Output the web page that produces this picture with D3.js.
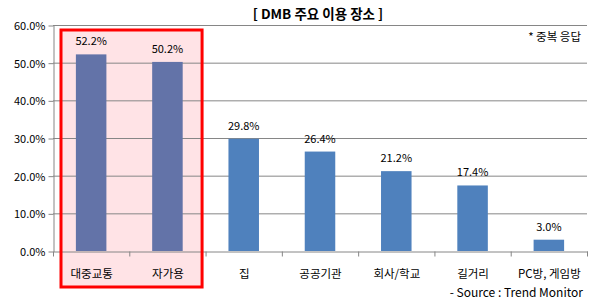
<!DOCTYPE html>
<html>
<head>
<meta charset="utf-8">
<script src="https://cdn.jsdelivr.net/npm/d3@7"></script>
<style>
  body { margin: 0; background: #fff; }
  text { font-family: "Noto Sans CJK KR", "DejaVu Sans", sans-serif; fill: #000; }
</style>
</head>
<body>
<div id="chart"></div>
<script>
// data
let categories = ["대중교통", "자가용", "집", "공공기관", "회사/학교", "길거리", "PC방, 게임방"];
let values = [52.2, 50.2, 29.8, 26.4, 21.2, 17.4, 3.0];
let highlighted = ["대중교통", "자가용"];
let yTicks = [0, 10, 20, 30, 40, 50, 60];

let width = 597, height = 305;
let margin = {top: 25, right: 10, bottom: 54, left: 53};
let plotW = width - margin.left - margin.right;
let plotH = height - margin.top - margin.bottom;

let svg = d3.select("#chart").append("svg")
  .attr("width", width)
  .attr("height", height);

let x = d3.scaleBand().domain(categories).range([0, plotW]).paddingInner(0).paddingOuter(0);
let y = d3.scaleLinear().domain([0, 60]).range([plotH, 0]);

let g = svg.append("g").attr("transform", `translate(${margin.left},${margin.top})`);

// highlight box behind first two bars
let hx0 = x(highlighted[0]) + 8;
let hx1 = x(highlighted[1]) + x.bandwidth() - 3.5;
g.append("rect")
  .attr("x", hx0)
  .attr("y", 5)
  .attr("width", hx1 - hx0)
  .attr("height", plotH + 36 - 5)
  .attr("fill", "#ffe3e6")
  .attr("stroke", "none");

// gridlines
g.selectAll(".grid")
  .data(yTicks.filter(d => d > 0))
  .enter().append("line")
    .attr("x1", 0)
    .attr("x2", plotW)
    .attr("y1", d => y(d) + 0.5)
    .attr("y2", d => y(d) + 0.5)
    .attr("stroke", "#868686")
    .attr("stroke-width", 1);

// y axis
let yAxis = g.append("g")
  .attr("transform", "translate(0.5,0.5)")
  .call(d3.axisLeft(y).tickValues(yTicks).tickSize(5).tickSizeOuter(0).tickFormat(d => d.toFixed(1) + "%"));
yAxis.select(".domain").attr("stroke", "#868686");
yAxis.selectAll(".tick line").attr("stroke", "#868686");
yAxis.selectAll(".tick text").attr("font-size", 11).attr("x", -8).attr("dy", "0.35em");

// x axis
let xAxis = g.append("g")
  .attr("transform", `translate(0.5,${plotH + 0.5})`)
  .call(d3.axisBottom(x).tickSize(0).tickSizeOuter(0));
xAxis.select(".domain").attr("stroke", "#868686");
xAxis.selectAll(".tick text").attr("font-size", 11.5).attr("y", 18);
// boundary ticks between categories
xAxis.selectAll(".bt")
  .data(d3.range(categories.length + 1))
  .enter().append("line")
    .attr("x1", i => i * x.bandwidth())
    .attr("x2", i => i * x.bandwidth())
    .attr("y1", 0)
    .attr("y2", 5)
    .attr("stroke", "#868686");

// bars
let barW = x.bandwidth() * 0.4;
g.selectAll(".bar")
  .data(values)
  .enter().append("rect")
    .attr("x", (d, i) => x(categories[i]) + (x.bandwidth() - barW) / 2)
    .attr("y", d => y(d))
    .attr("width", barW)
    .attr("height", d => plotH - y(d))
    .attr("fill", (d, i) => highlighted.includes(categories[i]) ? "#6373a8" : "#4f81bd");

// value labels
g.selectAll(".lbl")
  .data(values)
  .enter().append("text")
    .attr("x", (d, i) => x(categories[i]) + x.bandwidth() / 2)
    .attr("y", d => y(d) - 9)
    .attr("text-anchor", "middle")
    .attr("font-size", 11)
    .text(d => d.toFixed(1) + "%");

// red outline on top
g.append("rect")
  .attr("x", hx0)
  .attr("y", 5)
  .attr("width", hx1 - hx0)
  .attr("height", plotH + 36 - 5)
  .attr("fill", "none")
  .attr("stroke", "#ff0000")
  .attr("stroke-width", 3);

// title and notes
svg.append("text")
  .attr("x", 318)
  .attr("y", 19)
  .attr("text-anchor", "middle")
  .attr("font-size", 13.5)
  .attr("font-weight", "bold")
  .text("[ DMB 주요 이용 장소 ]");

svg.append("text")
  .attr("x", 581)
  .attr("y", 41)
  .attr("text-anchor", "end")
  .attr("font-size", 11.5)
  .text("* 중복 응답");

svg.append("text")
  .attr("x", 583)
  .attr("y", 297)
  .attr("text-anchor", "end")
  .attr("font-size", 12)
  .text("- Source : Trend Monitor");
</script>
</body>
</html>
